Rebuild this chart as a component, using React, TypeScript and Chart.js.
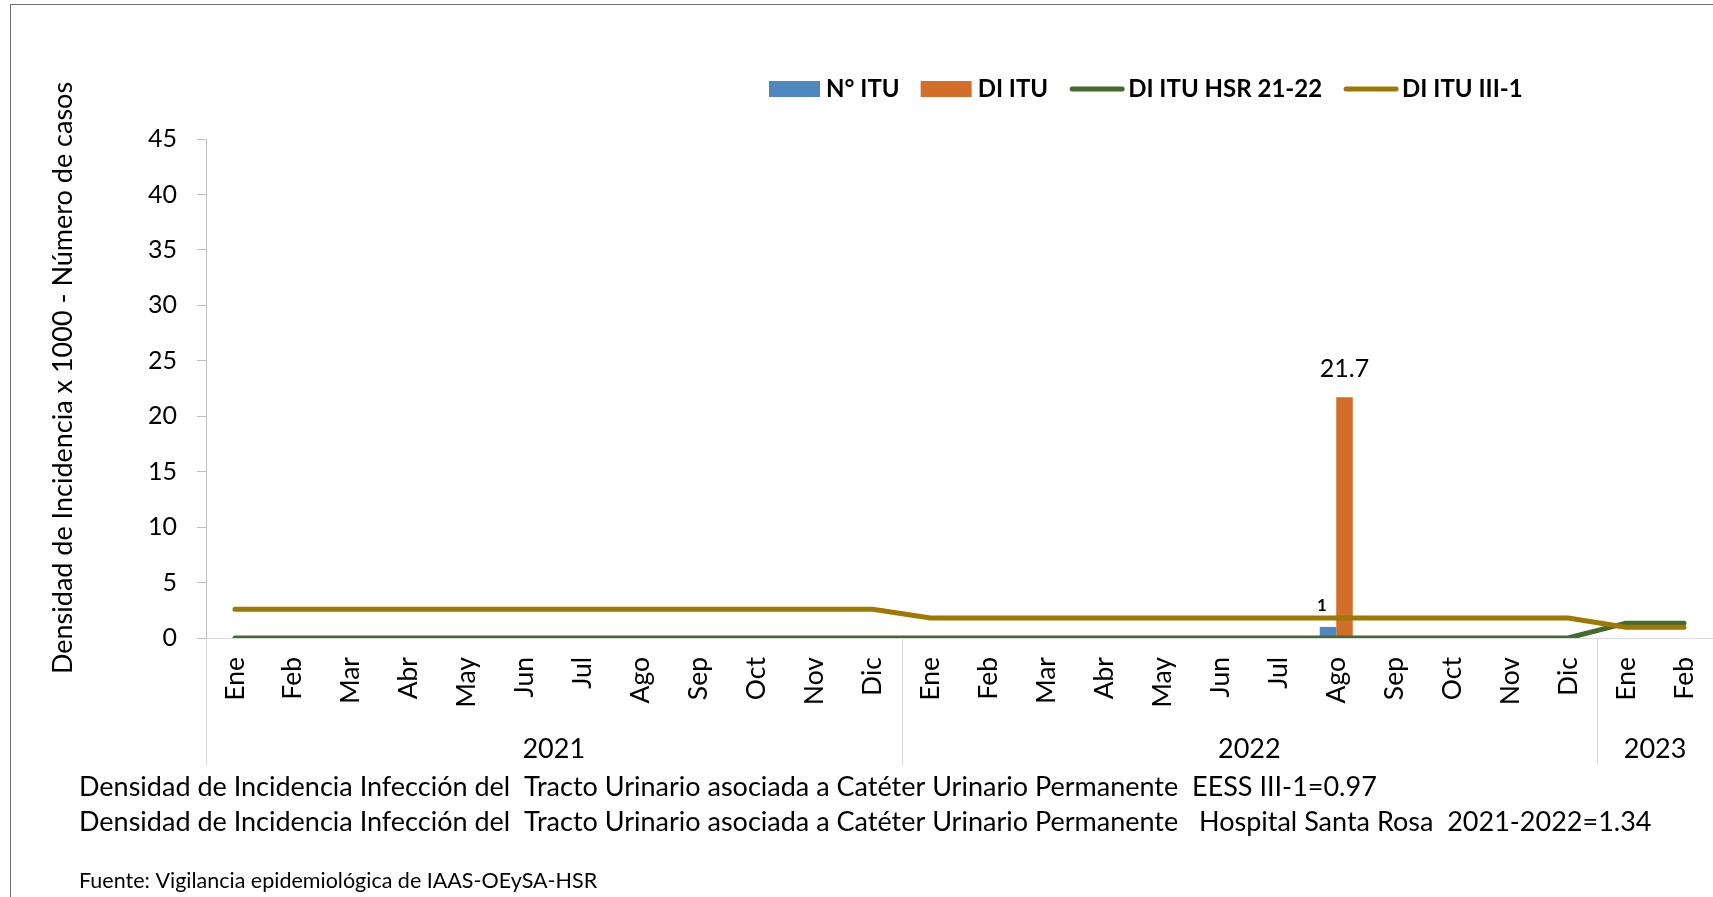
import React, { useEffect, useRef } from 'react';
import { Chart, registerables } from 'chart.js';

Chart.register(...registerables);

// ---------------- data ----------------
const monthLabels = [
  'Ene', 'Feb', 'Mar', 'Abr', 'May', 'Jun', 'Jul', 'Ago', 'Sep', 'Oct', 'Nov', 'Dic',
  'Ene', 'Feb', 'Mar', 'Abr', 'May', 'Jun', 'Jul', 'Ago', 'Sep', 'Oct', 'Nov', 'Dic',
  'Ene', 'Feb',
];
const yearLabels = ['2021', '2022', '2023'];
const monthsPerYear = [12, 12, 2];

const nItu = [
  null, null, null, null, null, null, null, null, null, null, null, null,
  null, null, null, null, null, null, null, 1, null, null, null, null,
  null, null,
];
const diItu = [
  null, null, null, null, null, null, null, null, null, null, null, null,
  null, null, null, null, null, null, null, 21.7, null, null, null, null,
  null, null,
];
const diItuHsr = [
  0, 0, 0, 0, 0, 0, 0, 0, 0, 0, 0, 0,
  0, 0, 0, 0, 0, 0, 0, 0, 0, 0, 0, 0,
  1.34, 1.34,
];
const diItuIII1 = [
  2.6, 2.6, 2.6, 2.6, 2.6, 2.6, 2.6, 2.6, 2.6, 2.6, 2.6, 2.6,
  1.8, 1.8, 1.8, 1.8, 1.8, 1.8, 1.8, 1.8, 1.8, 1.8, 1.8, 1.8,
  0.97, 0.97,
];

const seriesNames = ['N° ITU', 'DI ITU', 'DI ITU HSR 21-22', 'DI ITU III-1'];
const yMin = 0;
const yMax = 45;
const yStep = 5;
const yTitle = 'Densidad de Incidencia x 1000 - Número de casos';
const footnotes = [
  'Densidad de Incidencia Infección del  Tracto Urinario asociada a Catéter Urinario Permanente  EESS III-1=0.97',
  'Densidad de Incidencia Infección del  Tracto Urinario asociada a Catéter Urinario Permanente   Hospital Santa Rosa  2021-2022=1.34',
];
const sourceNote = 'Fuente: Vigilancia epidemiológica de IAAS-OEySA-HSR';

// ---------------- styles ----------------
const FONT = 'Lato, "Noto Sans", sans-serif';
const COLORS = ['#4f87c0', '#d36d2a', '#456a2d', '#9e7800'];

const decorPlugin = {
  id: 'decor',
  afterDatasetDraw(chart: any, args: any) {
    const ds = chart.data.datasets[args.index];
    if (ds.type !== 'bar') return;
    const ctx = chart.ctx;
    ctx.save();
    ctx.fillStyle = '#000';
    ctx.textAlign = 'center';
    ctx.textBaseline = 'alphabetic';
    args.meta.data.forEach((el: any, i: number) => {
      const v = ds.data[i];
      if (v == null || v === 0) return;
      if (args.index === 0) {
        ctx.font = `bold 17px ${FONT}`;
        ctx.fillText(String(v), el.x - 6, el.y - 16);
      } else {
        ctx.font = `25px ${FONT}`;
        ctx.fillText(String(v), el.x, el.y - 20);
      }
    });
    ctx.restore();
  },
  afterDraw(chart: any) {
    const ctx = chart.ctx;
    const xs = chart.scales.x;
    const area = chart.chartArea;
    const lowerY = 765;
    ctx.save();

    // group separators & year labels
    ctx.strokeStyle = '#d9d9d9';
    ctx.lineWidth = 1;
    ctx.beginPath();
    ctx.moveTo(Math.round(area.left) + 0.5, area.bottom);
    ctx.lineTo(Math.round(area.left) + 0.5, lowerY);
    ctx.stroke();
    let start = 0;
    ctx.fillStyle = '#000';
    ctx.font = `27px ${FONT}`;
    ctx.textAlign = 'center';
    ctx.textBaseline = 'middle';
    monthsPerYear.forEach((n, g) => {
      const end = start + n - 1;
      const half = (xs.getPixelForValue(1) - xs.getPixelForValue(0)) / 2;
      const left = xs.getPixelForValue(start) - half;
      const right = xs.getPixelForValue(end) + half;
      if (g < monthsPerYear.length - 1) {
        ctx.beginPath();
        ctx.moveTo(Math.round(right) + 0.5, area.bottom);
        ctx.lineTo(Math.round(right) + 0.5, lowerY);
        ctx.stroke();
      }
      ctx.fillText(yearLabels[g], (left + right) / 2, 749);
      start += n;
    });

    // y title
    ctx.save();
    ctx.translate(63, 378);
    ctx.rotate(-Math.PI / 2);
    ctx.font = `27px ${FONT}`;
    ctx.fillText(yTitle, 0, 0);
    ctx.restore();

    // footnotes
    ctx.textAlign = 'left';
    ctx.font = `27px ${FONT}`;
    ctx.fillText(footnotes[0], 79, 787);
    ctx.fillText(footnotes[1], 79, 822);
    ctx.font = `21.5px ${FONT}`;
    ctx.fillText(sourceNote, 79, 881);

    // legend
    let lx = 769;
    const ly = 89;
    ctx.font = `bold 24px ${FONT}`;
    chart.data.datasets.forEach((ds: any) => {
      if (ds.type === 'bar') {
        ctx.fillStyle = ds.backgroundColor;
        ctx.fillRect(lx, ly - 8, 51, 16);
        lx += 57;
      } else {
        ctx.strokeStyle = ds.borderColor;
        ctx.lineWidth = 5;
        ctx.lineCap = 'round';
        ctx.beginPath();
        ctx.moveTo(lx + 3, ly);
        ctx.lineTo(lx + 53, ly);
        ctx.stroke();
        lx += 59;
      }
      ctx.fillStyle = '#000';
      ctx.fillText(ds.label, lx, ly);
      lx += ctx.measureText(ds.label).width + 21;
    });
    ctx.restore();
  },
};

export default function App() {
  const ref = useRef<HTMLCanvasElement | null>(null);

  useEffect(() => {
    if (!ref.current) return;
    const chart = new Chart(ref.current, {
      type: 'bar',
      data: {
        labels: monthLabels,
        datasets: [
          {
            type: 'bar',
            label: seriesNames[0],
            data: nItu,
            backgroundColor: COLORS[0],
            barPercentage: 1,
            categoryPercentage: 0.57,
            order: 2,
          },
          {
            type: 'bar',
            label: seriesNames[1],
            data: diItu,
            backgroundColor: COLORS[1],
            barPercentage: 1,
            categoryPercentage: 0.57,
            order: 2,
          },
          {
            type: 'line',
            label: seriesNames[2],
            data: diItuHsr,
            borderColor: COLORS[2],
            backgroundColor: COLORS[2],
            borderWidth: 5,
            pointRadius: 0,
            borderCapStyle: 'round',
            borderJoinStyle: 'round',
            tension: 0,
            order: 1,
          },
          {
            type: 'line',
            label: seriesNames[3],
            data: diItuIII1,
            borderColor: COLORS[3],
            backgroundColor: COLORS[3],
            borderWidth: 5,
            pointRadius: 0,
            borderCapStyle: 'round',
            borderJoinStyle: 'round',
            tension: 0,
            order: 0,
          },
        ] as any,
      },
      options: {
        responsive: false,
        animation: false,
        devicePixelRatio: 1,
        layout: { padding: { top: 139, bottom: 132, left: 0, right: 0 } },
        plugins: {
          legend: { display: false },
          tooltip: { enabled: false },
          title: { display: false },
        },
        scales: {
          x: {
            type: 'category',
            offset: true,
            grid: { display: false },
            border: { display: true, color: '#d9d9d9', width: 1 },
            ticks: {
              autoSkip: false,
              minRotation: 90,
              maxRotation: 90,
              padding: 11,
              color: '#000',
              font: { family: FONT, size: 26.5 },
            },
            afterFit: (s: any) => {
              s.height = 127;
              s.paddingLeft = 0;
              s.paddingRight = 0;
            },
          },
          y: {
            min: yMin,
            max: yMax,
            ticks: {
              stepSize: yStep,
              padding: 20,
              color: '#000',
              font: { family: FONT, size: 25 },
            },
            grid: {
              display: true,
              drawOnChartArea: false,
              drawTicks: true,
              tickLength: 9,
              color: '#bfbfbf',
            },
            border: { display: true, color: '#bfbfbf', width: 1 },
            afterFit: (s: any) => {
              s.width = 206;
              s.paddingTop = 0;
              s.paddingBottom = 0;
            },
          },
        },
      } as any,
      plugins: [decorPlugin],
    });
    return () => chart.destroy();
  }, []);

  return (
    <div
      style={{
        position: 'fixed',
        left: 0,
        top: 0,
        width: 1713,
        height: 897,
        overflow: 'hidden',
        background: '#fff',
      }}
    >
      <div
        style={{
          position: 'absolute',
          left: 10,
          top: 4,
          width: 1760,
          height: 960,
          border: '1px solid #6e6e6e',
          boxSizing: 'border-box',
        }}
      />
      <canvas
        ref={ref}
        width={1713}
        height={897}
        style={{ position: 'absolute', left: 0, top: 0, width: 1713, height: 897 }}
      />
    </div>
  );
}
